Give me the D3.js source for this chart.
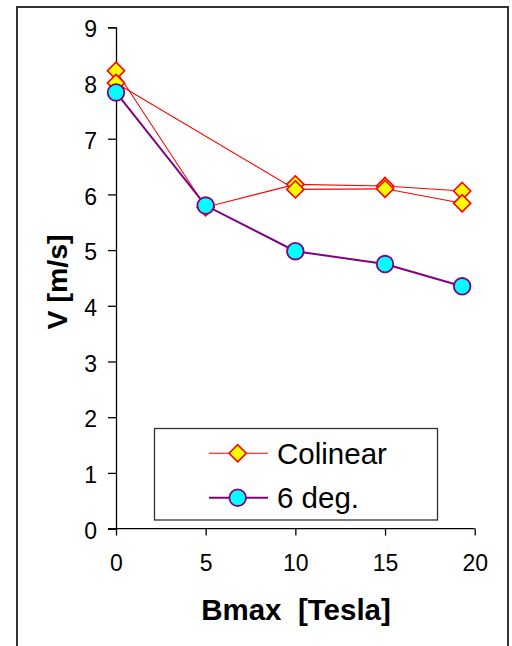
<!DOCTYPE html>
<html>
<head>
<meta charset="utf-8">
<script src="https://cdn.jsdelivr.net/npm/d3@7"></script>
<style>
  html, body { margin: 0; padding: 0; background: #fff; }
  svg { display: block; font-family: Arial, "Liberation Sans", sans-serif; }
</style>
</head>
<body>
<svg id="chart" width="512" height="646"></svg>
<script>
// Field strength (Tesla) and measured speed (m/s)
const bmax = [0, 5, 10, 15, 19.3];
// Colinear runs: two measurement sweeps drawn as one series (null = no point)
const colinearRunA = [8.22, 5.77, 6.18, 6.15, 6.06];
const colinearRunB = [8.00, null, 6.09, 6.10, 5.84];
const deg6 = [7.83, 5.80, 4.98, 4.75, 4.35];

const xTicks = [0, 5, 10, 15, 20];
const yTicks = [0, 1, 2, 3, 4, 5, 6, 7, 8, 9];
const seriesNames = ["Colinear", "6 deg."];

const svg = d3.select("#chart");

// outer chart frame
svg.append("rect")
  .attr("x", 17).attr("y", 7)
  .attr("width", 491).attr("height", 660)
  .attr("fill", "none").attr("stroke", "#333").attr("stroke-width", 2);

const x = d3.scaleLinear().domain([0, 20]).range([116, 474.7]);
const y = d3.scaleLinear().domain([0, 9]).range([528.6, 27.3]);

// y axis
const yAxis = svg.append("g")
  .attr("transform", `translate(${x(0)},0)`)
  .call(d3.axisLeft(y).tickValues(yTicks).tickSize(8).tickPadding(11).tickFormat(d3.format("d")));
yAxis.select(".domain").attr("stroke", "#000").attr("stroke-width", 1.3);
yAxis.selectAll(".tick line").attr("stroke", "#000").attr("stroke-width", 1.3);
yAxis.selectAll(".tick text")
  .attr("font-size", 23).attr("fill", "#000").attr("dy", "0.42em")
  .attr("font-family", "Arial, 'Liberation Sans', sans-serif");

// x axis
const xAxis = svg.append("g")
  .attr("transform", `translate(0,${y(0)})`)
  .call(d3.axisBottom(x).tickValues(xTicks).tickSize(7).tickPadding(19).tickFormat(d3.format("d")));
xAxis.select(".domain").attr("stroke", "#000").attr("stroke-width", 1.3)
  .attr("d", `M${x(0) - 8},0H${x(20)}`);
xAxis.selectAll(".tick line").attr("stroke", "#000").attr("stroke-width", 1.3);
xAxis.selectAll(".tick text")
  .attr("font-size", 23).attr("fill", "#000")
  .attr("font-family", "Arial, 'Liberation Sans', sans-serif");

// axis titles
svg.append("text")
  .attr("x", 296).attr("y", 620)
  .attr("text-anchor", "middle")
  .attr("font-size", 29.5).attr("font-weight", "bold")
  .attr("xml:space", "preserve")
  .text("Bmax  [Tesla]");

svg.append("text")
  .attr("transform", "translate(67,282) rotate(-90)")
  .attr("text-anchor", "middle")
  .attr("font-size", 28.5).attr("font-weight", "bold")
  .text("V [m/s]");

const line = d3.line()
  .defined(d => d.v !== null)
  .x(d => x(d.b)).y(d => y(d.v));

const pts = arr => bmax.map((b, i) => ({ b, v: arr[i] })).filter(d => d.v !== null);

const diamond = (cx, cy, h) => `M${cx},${cy - h}L${cx + h},${cy}L${cx},${cy + h}L${cx - h},${cy}Z`;

// Colinear lines then markers
[colinearRunA, colinearRunB].forEach(run => {
  svg.append("path")
    .attr("d", line(pts(run)))
    .attr("fill", "none").attr("stroke", "#ff0000").attr("stroke-width", 1.1);
});
[colinearRunA, colinearRunB].forEach(run => {
  svg.append("g").selectAll("path").data(pts(run)).join("path")
    .attr("d", d => diamond(x(d.b), y(d.v), 8.6))
    .attr("fill", "#ffff00").attr("stroke", "#ff0000").attr("stroke-width", 1.6);
});

// 6 deg. line then markers
svg.append("path")
  .attr("d", line(pts(deg6)))
  .attr("fill", "none").attr("stroke", "#800080").attr("stroke-width", 2);
svg.append("g").selectAll("circle").data(pts(deg6)).join("circle")
  .attr("cx", d => x(d.b)).attr("cy", d => y(d.v)).attr("r", 8.3)
  .attr("fill", "#00ffff").attr("stroke", "#800080").attr("stroke-width", 1.8);

// legend
const lg = svg.append("g");
lg.append("rect")
  .attr("x", 154.5).attr("y", 428.5).attr("width", 283).attr("height", 91.5)
  .attr("fill", "#fff").attr("stroke", "#333").attr("stroke-width", 1.3);
const rows = [453.3, 497.7];
rows.forEach((ry, i) => {
  const isDeg = i === 1;
  lg.append("line")
    .attr("x1", 209).attr("x2", 268).attr("y1", ry).attr("y2", ry)
    .attr("stroke", isDeg ? "#800080" : "#ff0000").attr("stroke-width", isDeg ? 2 : 1.1);
  if (isDeg) {
    lg.append("circle").attr("cx", 237.7).attr("cy", ry).attr("r", 8.3)
      .attr("fill", "#00ffff").attr("stroke", "#800080").attr("stroke-width", 1.8);
  } else {
    lg.append("path").attr("d", diamond(237.7, ry, 8.6))
      .attr("fill", "#ffff00").attr("stroke", "#ff0000").attr("stroke-width", 1.6);
  }
  lg.append("text")
    .attr("x", 277).attr("y", ry).attr("dy", "0.36em")
    .attr("font-size", 29.5).attr("fill", "#000")
    .text(seriesNames[i]);
});
</script>
</body>
</html>
